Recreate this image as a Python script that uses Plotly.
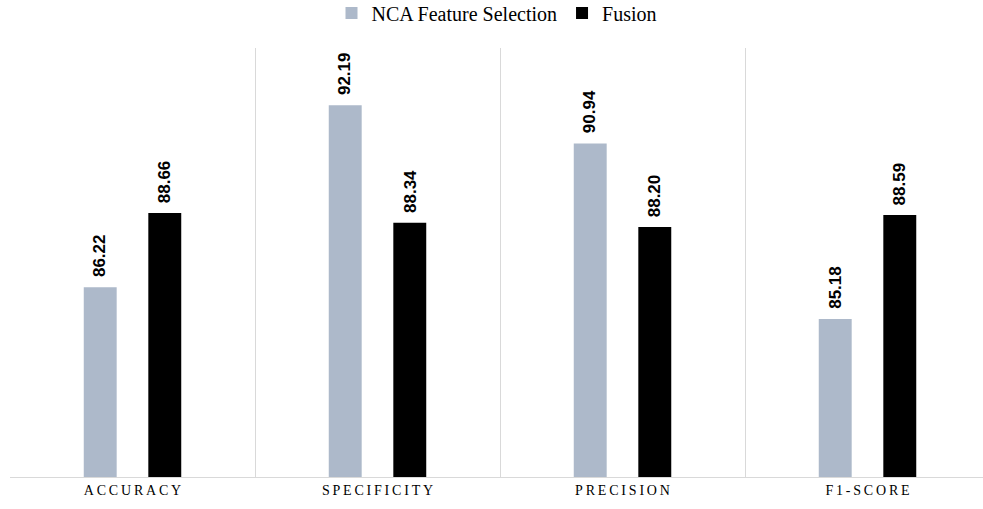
import plotly.graph_objects as go

categories = ["ACCURACY", "SPECIFICITY", "PRECISION", "F1-SCORE"]
nca_values = [86.22, 92.19, 90.94, 85.18]
fusion_values = [88.66, 88.34, 88.20, 88.59]
series_names = ["NCA Feature Selection", "Fusion"]
series_colors = ["#ADB9CA", "#000000"]

WIDTH, HEIGHT = 983, 509
MARGIN = dict(l=10, r=0, t=48, b=32, autoexpand=False)
X_RANGE = [-0.5, 3.4714]
BARGAP = 0.473
BARGROUPGAP = 0.49

# tick labels with widened letter spacing
ticktext = ["\u2009".join(c) for c in categories]

fig = go.Figure()
for name, vals, color in zip(series_names, [nca_values, fusion_values], series_colors):
    fig.add_trace(go.Bar(
        name=name,
        x=categories,
        y=vals,
        marker=dict(color=color, line=dict(width=0)),
        cliponaxis=False,
    ))

# value labels above each bar, placed at the centre of its group slot
plot_w = WIDTH - MARGIN["l"] - MARGIN["r"]
cat_px = plot_w / (X_RANGE[1] - X_RANGE[0])
slot_px = (1 - BARGAP) * cat_px / 2
for i, vals in enumerate([nca_values, fusion_values]):
    shift = (i - 0.5) * slot_px
    for cat, v in zip(categories, vals):
        fig.add_annotation(
            x=cat, y=v, xref="x", yref="y",
            text=f"{v:.2f}",
            showarrow=False,
            textangle=-90,
            xanchor="center", yanchor="bottom",
            xshift=shift, yshift=8,
            font=dict(family="Liberation Sans", size=17, color="#000000", weight="bold"),
        )

fig.update_layout(
    width=WIDTH,
    height=HEIGHT,
    margin=MARGIN,
    paper_bgcolor="white",
    plot_bgcolor="white",
    barmode="group",
    bargap=BARGAP,
    bargroupgap=BARGROUPGAP,
    showlegend=True,
    legend=dict(
        orientation="h",
        x=0.5, xanchor="center",
        y=1.0816, yref="paper", yanchor="middle",
        font=dict(family="Liberation Serif", size=20, color="#000000"),
        itemwidth=30,
        traceorder="normal",
    ),
)

fig.update_xaxes(
    range=X_RANGE,
    tickson="boundaries",
    tickvals=categories,
    ticktext=ticktext,
    showgrid=True,
    gridcolor="#D9D9D9",
    gridwidth=1,
    ticks="",
    showline=True,
    linecolor="#D9D9D9",
    linewidth=1,
    tickfont=dict(family="Liberation Serif", size=14, color="#000000"),
    fixedrange=True,
)
fig.update_yaxes(
    range=[80, 94.07],
    showgrid=False,
    showticklabels=False,
    zeroline=False,
    showline=False,
    ticks="",
    fixedrange=True,
)

fig.write_html("out.html")
